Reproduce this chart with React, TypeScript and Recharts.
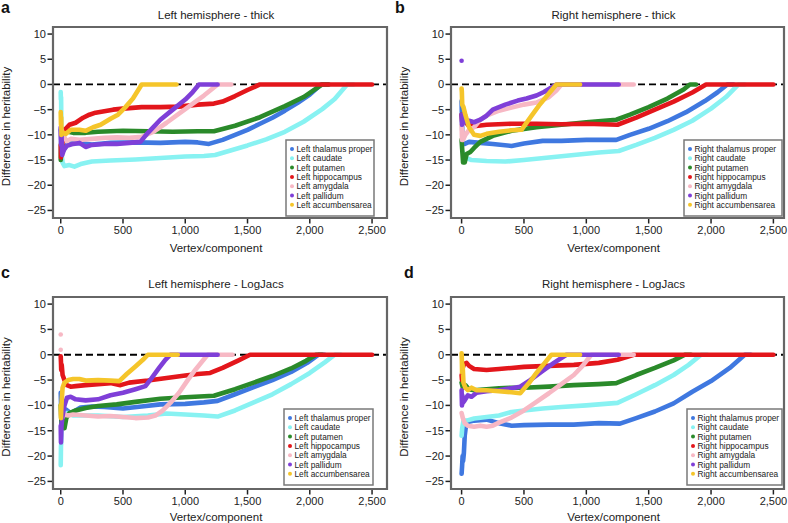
import { ComposedChart, Line, Scatter, XAxis, YAxis, Cell } from "recharts";

type Pt = [number, number];

const X_TICKS = [0, 500, 1000, 1500, 2000, 2500];
const Y_TICKS = [-25, -20, -15, -10, -5, 0, 5, 10];
const Y_DOMAIN: [number, number] = [-26.5, 11.4];

const REGIONS = ["thalamus proper", "caudate", "putamen", "hippocampus", "amygdala", "pallidum", "accumbensarea"];
const COLORS = ["#3f78e0", "#88f2f2", "#2a8a2a", "#e3161b", "#f7b8c4", "#7f3fd8", "#f5c52a"];

// a: left hemisphere - thick
const aThal: Pt[] = [[0, -9], [3, -11], [6, -13.5], [12, -12.2], [25, -13], [45, -12], [80, -11.7], [150, -11.6], [250, -11.9], [400, -11.6], [600, -11.5], [800, -11.6], [1000, -11.4], [1100, -11.5], [1190, -11.8], [1300, -11], [1400, -10], [1500, -9], [1600, -7.8], [1700, -6.6], [1800, -5.2], [1900, -3.7], [2000, -2], [2090, 0], [2150, 0]];
const aCaud: Pt[] = [[0, -1.5], [1, -3], [3, -2.5], [5, -8], [8, -14], [15, -15.5], [30, -16.2], [70, -16], [110, -16.3], [160, -15.8], [250, -15.3], [400, -15.1], [600, -14.9], [800, -14.6], [1000, -14.3], [1150, -14.2], [1240, -14], [1350, -13.2], [1500, -12.1], [1650, -10.9], [1800, -9.4], [1950, -7.4], [2100, -4.9], [2200, -2.9], [2300, 0], [2350, 0]];
const aPut: Pt[] = [[0, -15], [3, -12], [6, -10.5], [15, -9], [40, -9.3], [100, -9.6], [200, -9.6], [300, -9.4], [500, -9.2], [700, -9.3], [900, -9.4], [1100, -9.3], [1230, -9.3], [1400, -8.2], [1600, -6.5], [1800, -4.3], [1950, -2.5], [2100, 0], [2150, 0]];
const aHip: Pt[] = [[0, -12], [2, -14.5], [4, -13], [7, -14], [12, -12], [20, -10], [40, -8.8], [70, -8], [120, -7.6], [180, -6.6], [230, -6], [280, -5.6], [350, -5.3], [420, -5], [500, -4.8], [650, -4.5], [800, -4.5], [950, -4.4], [1100, -4], [1230, -3.8], [1300, -3.4], [1400, -2.3], [1500, -1.1], [1600, 0], [2500, 0]];
const aAmy: Pt[] = [[0, -9.5], [4, -11], [8, -9], [15, -10], [30, -10.5], [50, -11.3], [80, -10.8], [150, -11], [250, -10.8], [350, -10.6], [450, -10.5], [550, -10.6], [650, -10.4], [750, -9.3], [850, -7.6], [950, -5.8], [1050, -4], [1150, -2.2], [1260, 0], [1370, 0]];
const aPal: Pt[] = [[0, -8.5], [3, -12], [6, -10], [12, -14], [25, -13], [50, -12.2], [100, -11.8], [150, -11.6], [200, -12.4], [250, -12], [350, -11.8], [450, -11.8], [550, -11.6], [640, -11.4], [700, -9.6], [800, -7], [900, -5], [1000, -3], [1060, -1.5], [1110, 0], [1260, 0]];
const aAcc: Pt[] = [[0, -5.5], [2, -8], [4, -6.5], [6, -10], [15, -9.5], [40, -9.8], [80, -9], [150, -9], [200, -9.2], [260, -8.5], [320, -8], [400, -6.8], [460, -6], [520, -4.5], [580, -2.8], [650, 0], [930, 0]];

// b: right hemisphere - thick
const bThal: Pt[] = [[0, -3.3], [2, -6], [5, -9], [10, -11.5], [25, -11.8], [60, -11.4], [150, -11.6], [250, -11.8], [400, -12.2], [500, -11.7], [650, -11.2], [800, -11.2], [1000, -11], [1150, -11], [1240, -11], [1350, -10], [1500, -8.8], [1650, -7.3], [1800, -5.5], [1950, -3.3], [2050, -1.6], [2130, 0], [2180, 0]];
const bCaud: Pt[] = [[10, -13.5], [30, -14.5], [80, -15], [200, -15.2], [350, -15.3], [500, -15], [700, -14.5], [900, -14], [1100, -13.5], [1260, -13.2], [1400, -12], [1550, -10.6], [1700, -9], [1850, -7.2], [2000, -4.8], [2120, -2.5], [2220, 0], [2270, 0]];
const bPut: Pt[] = [[0, -11], [5, -13], [12, -15.5], [25, -15.5], [40, -13.8], [70, -13.4], [100, -12.6], [150, -11.4], [250, -10.2], [400, -9.2], [600, -8.5], [800, -8], [1000, -7.5], [1240, -7], [1350, -6], [1500, -4.5], [1650, -2.8], [1780, -1], [1830, 0], [1880, 0]];
const bHip: Pt[] = [[0, -6], [5, -7.5], [20, -7], [50, -8], [100, -8.3], [200, -8], [400, -7.8], [600, -7.8], [800, -7.9], [1000, -7.8], [1250, -8], [1400, -6.6], [1550, -5], [1700, -3.4], [1850, -1.6], [1960, 0], [2500, 0]];
const bAmy: Pt[] = [[0, -8], [3, -11], [6, -9], [12, -11], [30, -10], [60, -9], [100, -8.5], [150, -7], [200, -6.2], [300, -5.2], [400, -4.6], [500, -4], [600, -3.6], [700, -2.5], [760, -1.2], [800, 0], [1380, 0]];
const bPal: Pt[] = [[0, -6], [4, -8], [10, -6.5], [25, -7.5], [60, -7.2], [100, -7.5], [150, -7], [200, -6.2], [250, -5], [350, -4], [450, -3.2], [520, -2.8], [600, -2.2], [660, -1.5], [720, -0.6], [760, 0], [1260, 0]];
const bAcc: Pt[] = [[0, -0.8], [2, -1.5], [5, -4], [15, -4.5], [30, -6], [60, -8.5], [100, -10], [150, -10.2], [200, -9.8], [300, -9.4], [400, -9.1], [480, -9], [550, -6.6], [620, -4.2], [700, -1.8], [760, 0], [950, 0]];
const bPalOut: Pt[] = [[0, 4.7]];

// c: left hemisphere - LogJacs
const cThal: Pt[] = [[0, -7.5], [3, -10], [6, -8], [10, -12], [20, -11], [40, -10.8], [80, -11.5], [120, -11], [160, -10.4], [250, -10.2], [350, -10.3], [500, -10.6], [650, -10.2], [800, -9.8], [1000, -9.7], [1150, -9.4], [1260, -9.1], [1400, -7.8], [1550, -6.4], [1700, -5], [1850, -3.4], [1980, -1.6], [2070, 0], [2120, 0]];
const cCaud: Pt[] = [[0, -21.8], [2, -18], [4, -17.5], [6, -15], [10, -12], [25, -11.5], [60, -11.5], [100, -12], [200, -12], [300, -12], [500, -12.3], [700, -12], [850, -11.6], [1000, -11.8], [1150, -12], [1260, -12.2], [1400, -11], [1550, -9.4], [1700, -7.8], [1850, -5.8], [2000, -3.6], [2120, -1.5], [2200, 0], [2250, 0]];
const cPut: Pt[] = [[0, -10], [3, -12], [8, -14.5], [15, -13.5], [30, -14.5], [45, -12.5], [70, -11.5], [120, -11], [200, -10.5], [300, -10.1], [450, -9.8], [600, -9.3], [800, -8.7], [1000, -8.4], [1230, -8.1], [1400, -6.8], [1550, -5.5], [1700, -4.2], [1850, -2.7], [1970, -1.2], [2050, 0], [2100, 0]];
const cHip: Pt[] = [[0, -0.3], [2, -1.5], [4, -3], [8, -2], [15, -4], [30, -5], [50, -6], [80, -6.3], [120, -6.2], [200, -6], [300, -5.8], [400, -5.6], [480, -6], [550, -5.5], [700, -5.1], [850, -4.6], [1000, -4.1], [1100, -3.8], [1200, -3.6], [1300, -2.6], [1420, -1.2], [1520, 0], [2500, 0]];
const cAmy: Pt[] = [[0, -11.5], [10, -12.5], [30, -11.8], [60, -12], [100, -11.8], [200, -12], [300, -12.2], [400, -12.1], [500, -12.3], [600, -12.5], [700, -12.4], [760, -12], [820, -11], [880, -9.5], [950, -7.5], [1020, -5], [1080, -3], [1140, -1.2], [1180, 0], [1380, 0]];
const cPal: Pt[] = [[0, -14], [2, -17.3], [4, -16], [6, -14], [15, -12], [30, -10], [50, -8.5], [80, -8.3], [120, -8.8], [200, -9], [300, -8.8], [400, -8], [500, -7.5], [600, -6.8], [680, -6.2], [730, -4.6], [790, -2.6], [840, -1], [880, 0], [1260, 0]];
const cAcc: Pt[] = [[0, -10], [2, -12.5], [4, -11], [8, -9], [15, -6.5], [30, -5.5], [60, -5], [100, -4.8], [150, -4.8], [200, -5.1], [300, -5], [400, -5.1], [470, -5.2], [530, -3.8], [600, -2.3], [660, -1], [700, 0], [940, 0]];
const cAmyOut: Pt[] = [[0, 4], [0, 1]];

// d: right hemisphere - LogJacs
const dThal: Pt[] = [[0, -23.5], [4, -22], [8, -20], [12, -21], [18, -19.5], [25, -16], [35, -14], [50, -13.3], [100, -13], [200, -12.8], [300, -13.5], [400, -14], [500, -13.9], [700, -13.8], [900, -13.8], [1100, -13.5], [1270, -13.6], [1400, -12.5], [1550, -11.2], [1700, -9.6], [1850, -7.3], [2000, -5.2], [2150, -2.6], [2270, 0], [2320, 0]];
const dCaud: Pt[] = [[0, -16], [5, -14.5], [15, -13], [40, -13], [100, -12.6], [200, -12.3], [300, -12], [400, -11.3], [500, -11], [650, -10.6], [800, -10.3], [1000, -10], [1250, -9.5], [1400, -7.8], [1550, -6], [1700, -4], [1820, -2], [1920, 0], [1970, 0]];
const dPut: Pt[] = [[0, -5.5], [10, -6.5], [30, -6], [60, -6.8], [100, -7], [200, -6.8], [300, -6.6], [400, -6.5], [500, -6.5], [700, -6.3], [900, -6], [1100, -5.8], [1240, -5.6], [1400, -4], [1550, -2.6], [1700, -1.1], [1790, 0], [1840, 0]];
const dHip: Pt[] = [[0, -4], [3, -5], [6, -3], [10, -2.5], [20, -1.8], [40, -1.6], [60, -2.2], [100, -2.8], [200, -3], [300, -2.8], [400, -2.6], [500, -2.4], [700, -2.2], [900, -2], [1100, -1.6], [1250, -1], [1330, -0.4], [1380, 0], [2500, 0]];
const dAmy: Pt[] = [[0, -11.5], [10, -12.5], [25, -13.5], [50, -14], [100, -14.2], [150, -14], [200, -14.2], [250, -14], [300, -13.4], [400, -12.4], [500, -11], [600, -9.3], [700, -7.6], [800, -5.8], [900, -4], [970, -2.2], [1040, 0], [1380, 0]];
const dPal: Pt[] = [[0, -7], [3, -10], [6, -8], [10, -9.5], [25, -9], [50, -8], [80, -8.3], [120, -7.5], [200, -7.2], [300, -7], [400, -6.6], [470, -6.3], [550, -5], [650, -3.2], [740, -1.6], [840, 0], [1260, 0]];
const dAcc: Pt[] = [[0, 0.3], [2, -1], [4, -3.5], [8, -2], [15, -5.5], [30, -6.5], [50, -7], [80, -6.5], [120, -7], [200, -7], [300, -7.2], [400, -7.4], [470, -7.6], [540, -5.6], [600, -3.6], [660, -1.8], [720, 0], [950, 0]];

interface PanelDef {
  letter: string;
  title: string;
  side: string;
  series: Pt[][];
  outliers: { pts: Pt[]; color: number }[];
  left: number;
  top: number;
  w: number;
  h: number;
  box: { l: number; r: number; t: number; b: number };
  xDomain: [number, number];
  legend: { x: number; y: number; w: number };
}

const panels: PanelDef[] = [
  {
    letter: "a", title: "Left hemisphere - thick", side: "Left",
    series: [aThal, aCaud, aPut, aHip, aAmy, aPal, aAcc], outliers: [],
    left: 0, top: 0, w: 394, h: 262, box: { l: 53, r: 387, t: 27, b: 218 },
    xDomain: [-62, 2620], legend: { x: 286, y: 140, w: 88 },
  },
  {
    letter: "b", title: "Right hemisphere - thick", side: "Right",
    series: [bThal, bCaud, bPut, bHip, bAmy, bPal, bAcc], outliers: [{ pts: bPalOut, color: 5 }],
    left: 394, top: 0, w: 394, h: 262, box: { l: 57, r: 390, t: 27, b: 218 },
    xDomain: [-85, 2585], legend: { x: 290, y: 140, w: 98 },
  },
  {
    letter: "c", title: "Left hemisphere - LogJacs", side: "Left",
    series: [cThal, cCaud, cPut, cHip, cAmy, cPal, cAcc], outliers: [{ pts: cAmyOut, color: 4 }],
    left: 0, top: 262, w: 394, h: 261, box: { l: 53, r: 387, t: 35, b: 227 },
    xDomain: [-62, 2620], legend: { x: 284, y: 147, w: 89 },
  },
  {
    letter: "d", title: "Right hemisphere - LogJacs", side: "Right",
    series: [dThal, dCaud, dPut, dHip, dAmy, dPal, dAcc], outliers: [],
    left: 394, top: 262, w: 394, h: 261, box: { l: 57, r: 390, t: 35, b: 227 },
    xDomain: [-85, 2585], legend: { x: 293, y: 147, w: 95 },
  },
];

const FONT = "'Liberation Sans', Arial, Helvetica, sans-serif";
const INK = "#222";
const FRAME = "#666";

const toPoints = (s: Pt[]) => s.map(([x, y]) => ({ x, y }));
const fmtX = (v: number) => v.toLocaleString("en-US");
const fmtY = (v: number) => (v < 0 ? `\u2212${Math.abs(v)}` : `${v}`);

function Panel({ p }: { p: PanelDef }) {
  const { l, r, t, b } = p.box;
  const zero = [{ x: p.xDomain[0], y: 0 }, { x: p.xDomain[1], y: 0 }];
  return (
    <div style={{ position: "absolute", left: p.left, top: p.top }}>
      <ComposedChart width={p.w} height={p.h} margin={{ top: t, right: p.w - r, bottom: 0, left: 0 }}>
        <XAxis
          type="number"
          dataKey="x"
          domain={p.xDomain}
          ticks={X_TICKS}
          tickFormatter={fmtX}
          height={p.h - b}
          axisLine={false}
          tickLine={false}
          tickSize={4}
          tickMargin={4}
          tick={{ fontSize: 11, fill: INK, fontFamily: FONT }}
          allowDataOverflow
        />
        <YAxis
          type="number"
          dataKey="y"
          domain={Y_DOMAIN}
          ticks={Y_TICKS}
          tickFormatter={fmtY}
          width={l}
          axisLine={false}
          tickLine={false}
          tickSize={5}
          tickMargin={2}
          tick={{ fontSize: 11, fill: INK, fontFamily: FONT }}
          allowDataOverflow
        />
        <Line data={zero} dataKey="y" stroke="#000" strokeWidth={1.8} strokeDasharray="7 4" dot={false} isAnimationActive={false} />
        {p.series.map((s, i) => (
          <Line
            key={i}
            data={toPoints(s)}
            dataKey="y"
            stroke={COLORS[i]}
            strokeWidth={4.6}
            strokeLinejoin="round"
            strokeLinecap="round"
            dot={false}
            isAnimationActive={false}
          />
        ))}
        {p.outliers.map((o, i) => (
          <Scatter
            key={`o${i}`}
            data={toPoints(o.pts)}
            fill={COLORS[o.color]}
            isAnimationActive={false}
            shape={(props: any) => <circle cx={props.cx} cy={props.cy} r={2.3} fill={COLORS[o.color]} />}
          >
            {o.pts.map((_, j) => (
              <Cell key={j} fill={COLORS[o.color]} />
            ))}
          </Scatter>
        ))}
      </ComposedChart>
    </div>
  );
}

// plot frame, tick marks and legend box
function Overlay() {
  return (
    <svg width={788} height={523} style={{ position: "absolute", left: 0, top: 0, pointerEvents: "none" }}>
      {panels.map((p) => {
        const { l, r, t, b } = p.box;
        const cx = (l + r) / 2 - 4;
        const cy = (t + b) / 2 + 4;
        const lg = p.legend;
        const xs = X_TICKS.map((v) => l + ((v - p.xDomain[0]) / (p.xDomain[1] - p.xDomain[0])) * (r - l));
        const ys = Y_TICKS.map((v) => t + ((Y_DOMAIN[1] - v) / (Y_DOMAIN[1] - Y_DOMAIN[0])) * (b - t));
        return (
          <g key={p.letter} transform={`translate(${p.left},${p.top})`} fontFamily={FONT}>
            <polyline
              points={`${l},${t} ${r},${t} ${r},${b} ${l},${b} ${l},${t - 1.1}`}
              fill="none"
              stroke={FRAME}
              strokeWidth={2.2}
            />
            {xs.map((x, i) => (
              <line key={`x${i}`} x1={x} x2={x} y1={b + 1} y2={b + 5.5} stroke="#222" strokeWidth={1.5} />
            ))}
            {ys.map((y, i) => (
              <line key={`y${i}`} x1={l - 5.5} x2={l - 1} y1={y} y2={y} stroke="#222" strokeWidth={1.5} />
            ))}
            <polyline
              points={`${lg.x},${lg.y} ${lg.x + lg.w},${lg.y} ${lg.x + lg.w},${lg.y + 76} ${lg.x},${lg.y + 76} ${lg.x},${lg.y - 0.8}`}
              fill="#fff"
              stroke="#7a7a7a"
              strokeWidth={1.5}
            />
            <text x={p.letter === "d" ? 10 : 1} y={p.top === 0 ? 13 : 16} fontSize={16} fontWeight="bold" fill="#111">
              {p.letter}
            </text>
            <text x={cx} y={p.top === 0 ? 19 : 26} fontSize={11.5} textAnchor="middle" fill={INK}>
              {p.title}
            </text>
            <text x={cx} y={p.top === 0 ? 252 : 259} fontSize={11.5} textAnchor="middle" fill={INK}>
              Vertex/component
            </text>
            <text
              transform={`translate(${l - 43.5},${cy}) rotate(-90)`}
              fontSize={11.5}
              textAnchor="middle"
              fill={INK}
            >
              Difference in heritability
            </text>
            {REGIONS.map((reg, i) => (
              <g key={reg}>
                <circle cx={lg.x + 6} cy={lg.y + 9 + i * 9.3} r={2} fill={COLORS[i]} />
                <text x={lg.x + 10.5} y={lg.y + 12 + i * 9.3} fontSize={8.3} fill={INK}>
                  {`${p.side} ${reg}`}
                </text>
              </g>
            ))}
          </g>
        );
      })}
    </svg>
  );
}

export default function App() {
  return (
    <div style={{ position: "absolute", left: 0, top: 0, width: 788, height: 523, background: "#fff", fontFamily: FONT }}>
      {panels.map((p) => (
        <Panel key={p.letter} p={p} />
      ))}
      <Overlay />
    </div>
  );
}
